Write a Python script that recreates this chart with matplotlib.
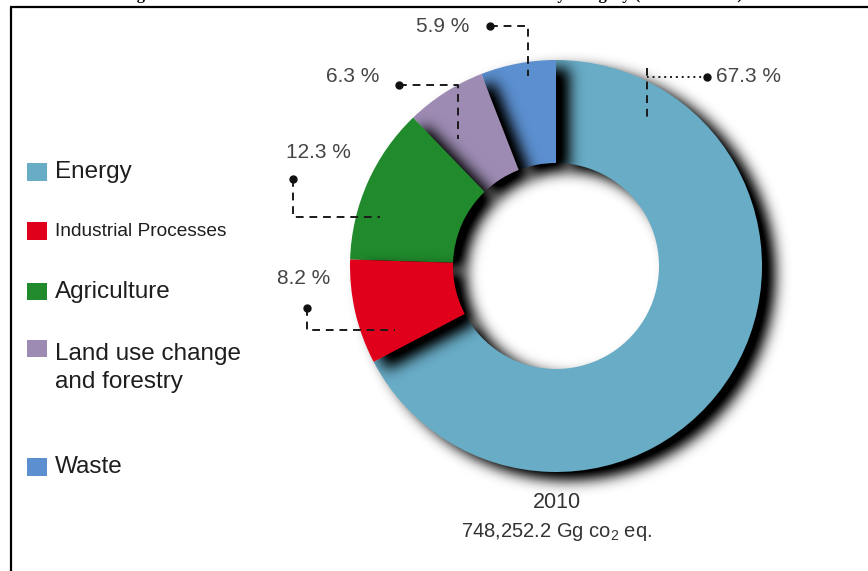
import numpy as np
import matplotlib
matplotlib.use("Agg")
import matplotlib.pyplot as plt

# ---- data -------------------------------------------------------------
categories = ["Energy", "Industrial Processes", "Agriculture",
              "Land use change\nand forestry", "Waste"]
shares = [67.3, 8.2, 12.3, 6.3, 5.9]
colors = ["#68acc6", "#e0001b", "#208a2c", "#9d8bb3", "#5b8fcf"]
year_label = "2010"
total_label = "748,252.2 Gg co$_2$ eq."
title = ("Figure 4: Mexico's Total Greenhouse Gas Emissions in 2010 "
         "by category (% of the total)")

# ---- canvas in pixel units -------------------------------------------
W, H = 868, 571
plt.rcParams["mathtext.fontset"] = "custom"
plt.rcParams["mathtext.rm"] = "Liberation Sans"
plt.rcParams["mathtext.it"] = "Liberation Sans"

fig = plt.figure(figsize=(W / 100, H / 100), dpi=100)
ax = fig.add_axes([0, 0, 1, 1])


def Y(y):
    """top-down pixel row -> data y"""
    return H - y


# ---- blurred drop shadow used behind each ring segment -----------------
def _blur1d(a, k, axis):
    r = len(k) // 2
    pad = [(r, r) if i == axis else (0, 0) for i in range(2)]
    p = np.pad(a, pad)
    out = np.zeros_like(a)
    n = a.shape[axis]
    for i, wgt in enumerate(k):
        sl = [slice(None), slice(None)]
        sl[axis] = slice(i, i + n)
        out += wgt * p[tuple(sl)]
    return out


class DropShadow:
    def __init__(self, sigma, dx, dy, strength):
        self.sigma, self.dx, self.dy, self.strength = sigma, dx, dy, strength

    def __call__(self, im, dpi):
        r = int(3 * self.sigma) + 1
        a = np.pad(im[..., 3], r)
        x = np.arange(-r, r + 1)
        k = np.exp(-0.5 * (x / self.sigma) ** 2)
        k /= k.sum()
        a = _blur1d(_blur1d(a, k, 0), k, 1)
        out = np.zeros(a.shape + (4,))
        out[..., 3] = np.clip(a * self.strength, 0, 1)
        return out, -r + self.dx, -r - self.dy


# ---- donut --------------------------------------------------------------
cx, cy, R, ring = 556, Y(266), 206, 103
common = dict(startangle=90, counterclock=False, radius=R, center=(cx, cy),
              wedgeprops=dict(width=ring, linewidth=0))
shadows, _ = ax.pie(shares, colors=["black"] * len(shares), **common)
wedges, _ = ax.pie(shares, colors=colors, **common)

# stacking order of the segments (lowest first): energy, waste, land use,
# agriculture, industrial processes
rank = [0, 4, 3, 2, 1]
for i in range(len(shares)):
    shadows[i].set_zorder(2 + 2 * rank[i])
    shadows[i].set_agg_filter(DropShadow(sigma=7, dx=13, dy=8, strength=1.15))
    wedges[i].set_zorder(3 + 2 * rank[i])

ax.set_xlim(0, W)
ax.set_ylim(0, H)
ax.axis("off")

# ---- leader lines and value labels ---------------------------------------
pct_style = dict(fontsize=15, family="Liberation Sans", color="#454545",
                 ha="center", va="center", zorder=20)
dash = dict(color="#1a1a1a", lw=1.4, ls=(0, (4, 3)), zorder=20)


def leader(points, label, label_xy, ls=None):
    xs = [p[0] for p in points]
    ys = [Y(p[1]) for p in points]
    style = dict(dash)
    if ls is not None:
        style["ls"] = ls
    ax.plot(xs, ys, **style)
    ax.plot(xs[0], ys[0], "o", color="#111111", ms=5, zorder=21)
    ax.text(label_xy[0], Y(label_xy[1]), label, **pct_style)


labels = [f"{v} %" for v in shares]
# Energy
ax.plot([647, 647], [Y(68), Y(117)], **dash)
leader([(707, 77), (647, 77)], "", (0, 0), ls=(0, (1, 2)))
ax.text(749, Y(77), labels[0], **pct_style)
# Industrial processes
leader([(307, 308), (307, 330), (395, 330)], labels[1], (304, 278))
# Agriculture
leader([(293, 179), (293, 217), (380, 217)], labels[2], (318, 153))
# Land use change and forestry
leader([(399, 85), (458, 85), (458, 139)], labels[3], (353, 77))
# Waste
leader([(490, 26), (528, 26), (528, 76)], labels[4], (443, 26))

# ---- caption below the ring --------------------------------------------
ax.text(557, Y(502), year_label, fontsize=15.5, family="Liberation Sans",
        color="#333333", ha="center", va="center", zorder=20)
ax.text(557, Y(532), total_label, fontsize=14.5, family="Liberation Sans",
        color="#333333", ha="center", va="center", zorder=20)

# ---- legend -------------------------------------------------------------
leg_rows = [(163, 181, 172), (222, 240, 231), (283, 300, 292),
            (340, 357, 368), (458, 476, 467)]
leg_sizes = [17.5, 13.8, 17.5, 17.5, 17.5]
for (top, bot, ty), name, col, fs in zip(leg_rows, categories, colors,
                                         leg_sizes):
    ax.add_patch(plt.Rectangle((27, Y(bot)), 20, bot - top, color=col,
                               lw=0, zorder=20))
    ax.text(55, Y(ty), name, fontsize=fs, family="Liberation Sans",
            color="#1e1e1e", ha="left", va="center", linespacing=1.3,
            zorder=20)

# ---- frame and (clipped) heading ---------------------------------------
ax.plot([10, W], [Y(7), Y(7)], color="black", lw=1.6, zorder=30,
        solid_capstyle="butt")
ax.plot([11, 11], [Y(7), 0], color="black", lw=1.6, zorder=30,
        solid_capstyle="butt")
ax.text(122, Y(-1), title, fontsize=12, family="Liberation Serif",
        weight="bold", ha="left", va="baseline", color="black",
        zorder=30, clip_on=False)

fig.savefig("out.png", dpi=100)
